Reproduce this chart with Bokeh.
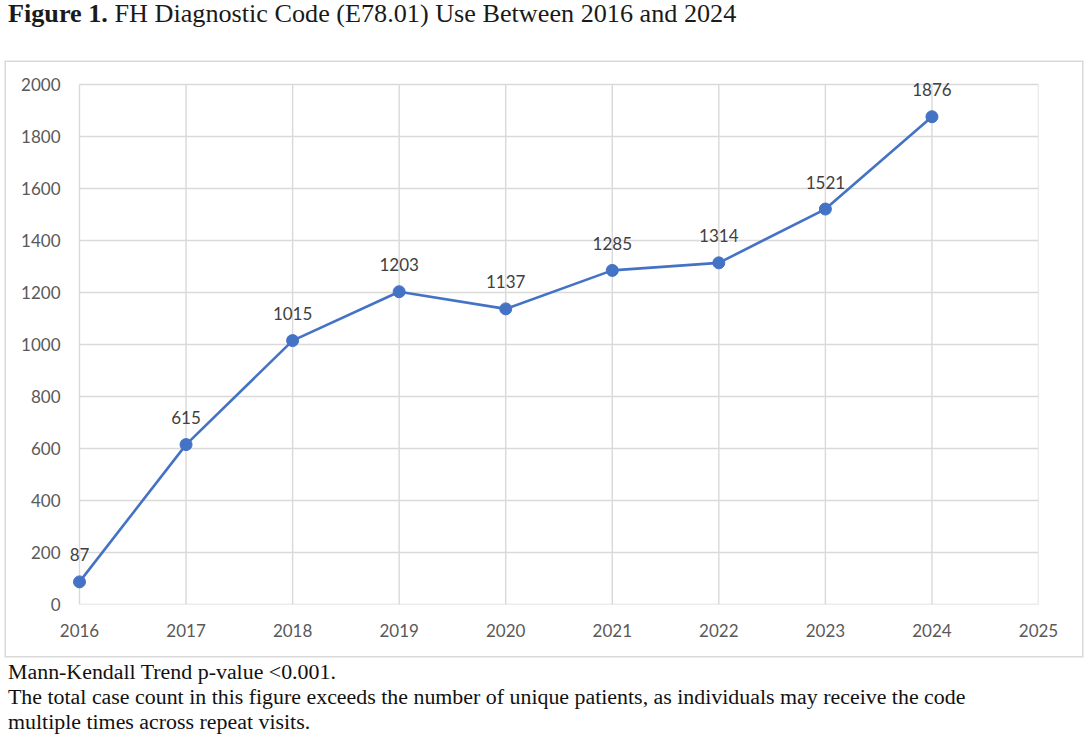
from bokeh.plotting import figure
from bokeh.models import ColumnDataSource, LabelSet, Range1d, FixedTicker, Div
from bokeh.layouts import column
from bokeh.core.properties import value
from bokeh.embed import file_html
from bokeh.resources import INLINE

years = [2016, 2017, 2018, 2019, 2020, 2021, 2022, 2023, 2024]
counts = [87, 615, 1015, 1203, 1137, 1285, 1314, 1521, 1876]
count_labels = [str(c) for c in counts]
x_ticks = [2016, 2017, 2018, 2019, 2020, 2021, 2022, 2023, 2024, 2025]
y_ticks = [0, 200, 400, 600, 800, 1000, 1200, 1400, 1600, 1800, 2000]

title_bold = "Figure 1."
title_rest = "FH Diagnostic Code (E78.01) Use Between 2016 and 2024"
caption_lines = [
    "Mann-Kendall Trend p-value &lt;0.001.",
    "The total case count in this figure exceeds the number of unique patients, as individuals may receive the code",
    "multiple times across repeat visits.",
]

# chart box (page px): x 6..1082, y 62..656 ; plot grid area: x 79..1038, y 84..604
BOX_L, BOX_T, BOX_W, BOX_H = 6, 62, 1076, 594
GL, GR, GT, GB = 79 - BOX_L, 1038 - BOX_L, 84 - BOX_T, 604 - BOX_T
PADL, PADT = 14, 10  # extra frame room so the data labels are not clipped
X0, X1 = x_ticks[0], x_ticks[-1]
Y0, Y1 = y_ticks[0], y_ticks[-1]
px_per_x = (GR - GL) / (X1 - X0)
px_per_y = (GB - GT) / (Y1 - Y0)

serif = "'Liberation Serif', 'Times New Roman', serif"

title_div = Div(
    text=(f'<div style="font-family:{serif}; font-size:26.2px; line-height:28px; color:#1a1a1a; '
          f'white-space:nowrap; padding-left:8px; padding-top:0px;">'
          f'<b>{title_bold}</b> {title_rest}</div>'),
    width=1076, height=BOX_T, margin=(0, 0, 0, 0))

p = figure(width=BOX_W, height=BOX_H, output_backend="svg", toolbar_location=None,
           x_range=Range1d(X0 - PADL / px_per_x, X1),
           y_range=Range1d(Y0, Y1 + PADT / px_per_y),
           min_border_left=GL - PADL, min_border_right=BOX_W - GR,
           min_border_top=GT - PADT, min_border_bottom=BOX_H - GB,
           margin=(0, 0, 0, BOX_L),
           styles={"box-shadow": "0 0 0 1.5px #d9d9d9"})
p.background_fill_color = "white"
p.border_fill_color = "white"
p.outline_line_color = None
p.xgrid.visible = False
p.ygrid.visible = False

grid_col = "#d9d9d9"
tick_font = "Lato"
for ax in (p.xaxis[0], p.yaxis[0]):
    ax.major_tick_line_color = None
    ax.minor_tick_line_color = None
    ax.major_tick_out = 0
    ax.major_tick_in = 0
    ax.minor_tick_out = 0
    ax.minor_tick_in = 0
    ax.axis_line_color = None
    ax.major_label_text_font = tick_font
    ax.major_label_text_font_size = "17px"
    ax.major_label_text_color = "#595959"
p.xaxis[0].ticker = FixedTicker(ticks=x_ticks)
p.yaxis[0].ticker = FixedTicker(ticks=y_ticks)
p.xaxis[0].major_label_standoff = 19
p.yaxis[0].major_label_standoff = 19 - PADL

# grid lines spanning exactly the tick extent
p.segment(x0=x_ticks, y0=[Y0] * len(x_ticks), x1=x_ticks, y1=[Y1] * len(x_ticks),
          line_color=grid_col, line_width=1.4)
p.segment(x0=[X0] * len(y_ticks), y0=y_ticks, x1=[X1] * len(y_ticks), y1=y_ticks,
          line_color=grid_col, line_width=1.4)

src = ColumnDataSource(dict(x=years, y=counts, lab=count_labels))
p.line("x", "y", source=src, line_color="#4472C4", line_width=2.6)
p.scatter("x", "y", source=src, size=12, fill_color="#4472C4", line_color="#4472C4")

p.add_layout(LabelSet(x="x", y="y", text="lab", source=src, y_offset=27,
                      text_align="center", text_baseline="middle",
                      text_font=value(tick_font), text_font_size="17px", text_color="#404040"))

caption_div = Div(
    text=(f'<div style="font-family:{serif}; font-size:21.9px; line-height:25px; color:#111111; '
          f'white-space:nowrap; padding-left:8px; padding-top:3px;">'
          + "<br>".join(caption_lines) + '</div>'),
    width=1076, height=80, margin=(0, 0, 0, 0))

layout = column(title_div, p, caption_div, spacing=0)
open("out.html", "w").write(file_html(layout, INLINE))
